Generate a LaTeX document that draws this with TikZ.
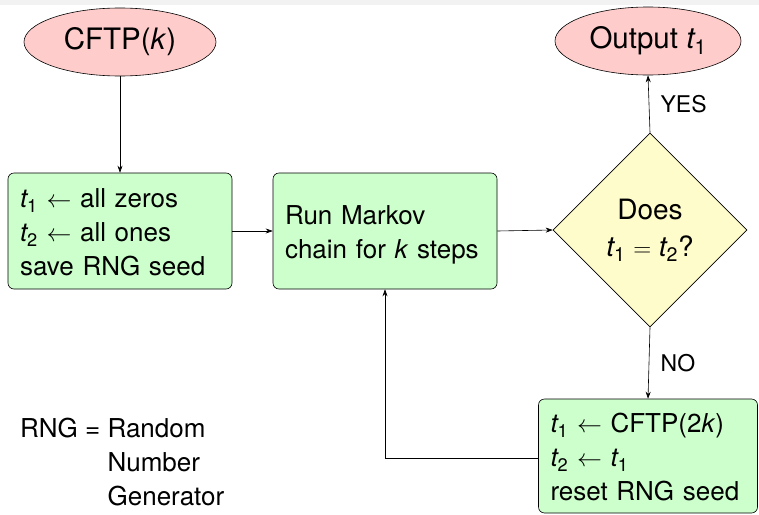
\documentclass[tikz,border=0pt]{standalone}
\usepackage{fontspec}
\setmainfont{TeX Gyre Heros}
\usetikzlibrary{shapes.geometric,arrows.meta}
\definecolor{pinkfill}{RGB}{255,204,204}
\definecolor{greenfill}{RGB}{204,255,204}
\definecolor{yellowfill}{RGB}{255,252,204}
\newcommand{\tv}[1]{{\itshape t}\textsubscript{#1}}
\newcommand{\lines}[1]{\raisebox{-4pt}[\height][\depth]{\begin{tabular}{@{}l@{}}#1\end{tabular}}}
\tikzset{
  every node/.style={font=\fontsize{26}{34}\selectfont},
  termnode/.style={ellipse,draw=black,line width=0.6pt,fill=pinkfill,inner sep=0pt,font=\fontsize{29.5}{36}\selectfont},
  procbox/.style={rectangle,rounded corners=6pt,draw=black,line width=0.6pt,fill=greenfill,align=left,inner xsep=12pt,inner ysep=0pt},
  decide/.style={diamond,aspect=1,draw=black,line width=0.6pt,fill=yellowfill,align=center,inner sep=0pt,minimum width=194pt,minimum height=194pt,font=\fontsize{28}{34}\selectfont},
  conn/.style={draw=black,line width=0.6pt,-{Stealth[length=7pt,width=5pt]}},
  lbl/.style={anchor=west,font=\fontsize{23}{26}\selectfont}
}
\begin{document}
\begin{tikzpicture}[x=1pt,y=1pt]
\useasboundingbox (0,0) rectangle (759,-514);
\fill[black!5] (0,0) rectangle (759,-5);
\node[termnode,minimum width=192pt,minimum height=68pt] (cftp) at (120,-42) {CFTP(\textit{k})};
\node[procbox,minimum width=224pt,minimum height=116pt,text width=200pt] (init) at (120,-231)
  {\lines{\tv{1} $\leftarrow$ all zeros\\ \tv{2} $\leftarrow$ all ones\\ save RNG seed}};
\node[procbox,minimum width=224pt,minimum height=116pt,text width=200pt] (run) at (385,-231)
  {\lines{Run Markov\\ chain for \textit{k} steps}};
\node[decide] (dec) at (650,-230) {Does\\[3pt] \tv{1} $=$ \tv{2}?};
\node[termnode,minimum width=186pt,minimum height=68pt] (out) at (648,-41) {Output \tv{1}};
\node[procbox,minimum width=219pt,minimum height=114pt,text width=195pt] (redo) at (648,-456)
  {\lines{\tv{1} $\leftarrow$ CFTP(2\textit{k})\\ \tv{2} $\leftarrow$ \tv{1}\\ reset RNG seed}};
\coordinate (loopcorner) at (385,-458);
\draw[conn] (cftp.south) -- (init.north);
\draw[conn] (init.east) -- (run.west);
\draw[conn] (run.east) -- (dec.west);
\draw[conn] (dec.north) -- node[lbl,xshift=8pt] (yes) {YES} (out.south);
\draw[conn] (dec.south) -- node[lbl,xshift=8pt] (no) {NO} (redo.north);
\draw[conn] (redo.west |- loopcorner) -- (loopcorner) -- (run.south);
\node[anchor=north west,align=left,inner sep=0pt] (legend) at (20,-413)
  {\begin{tabular}{@{}l@{ }l}RNG = & Random\\ & Number\\ & Generator\end{tabular}};
\end{tikzpicture}
\end{document}
